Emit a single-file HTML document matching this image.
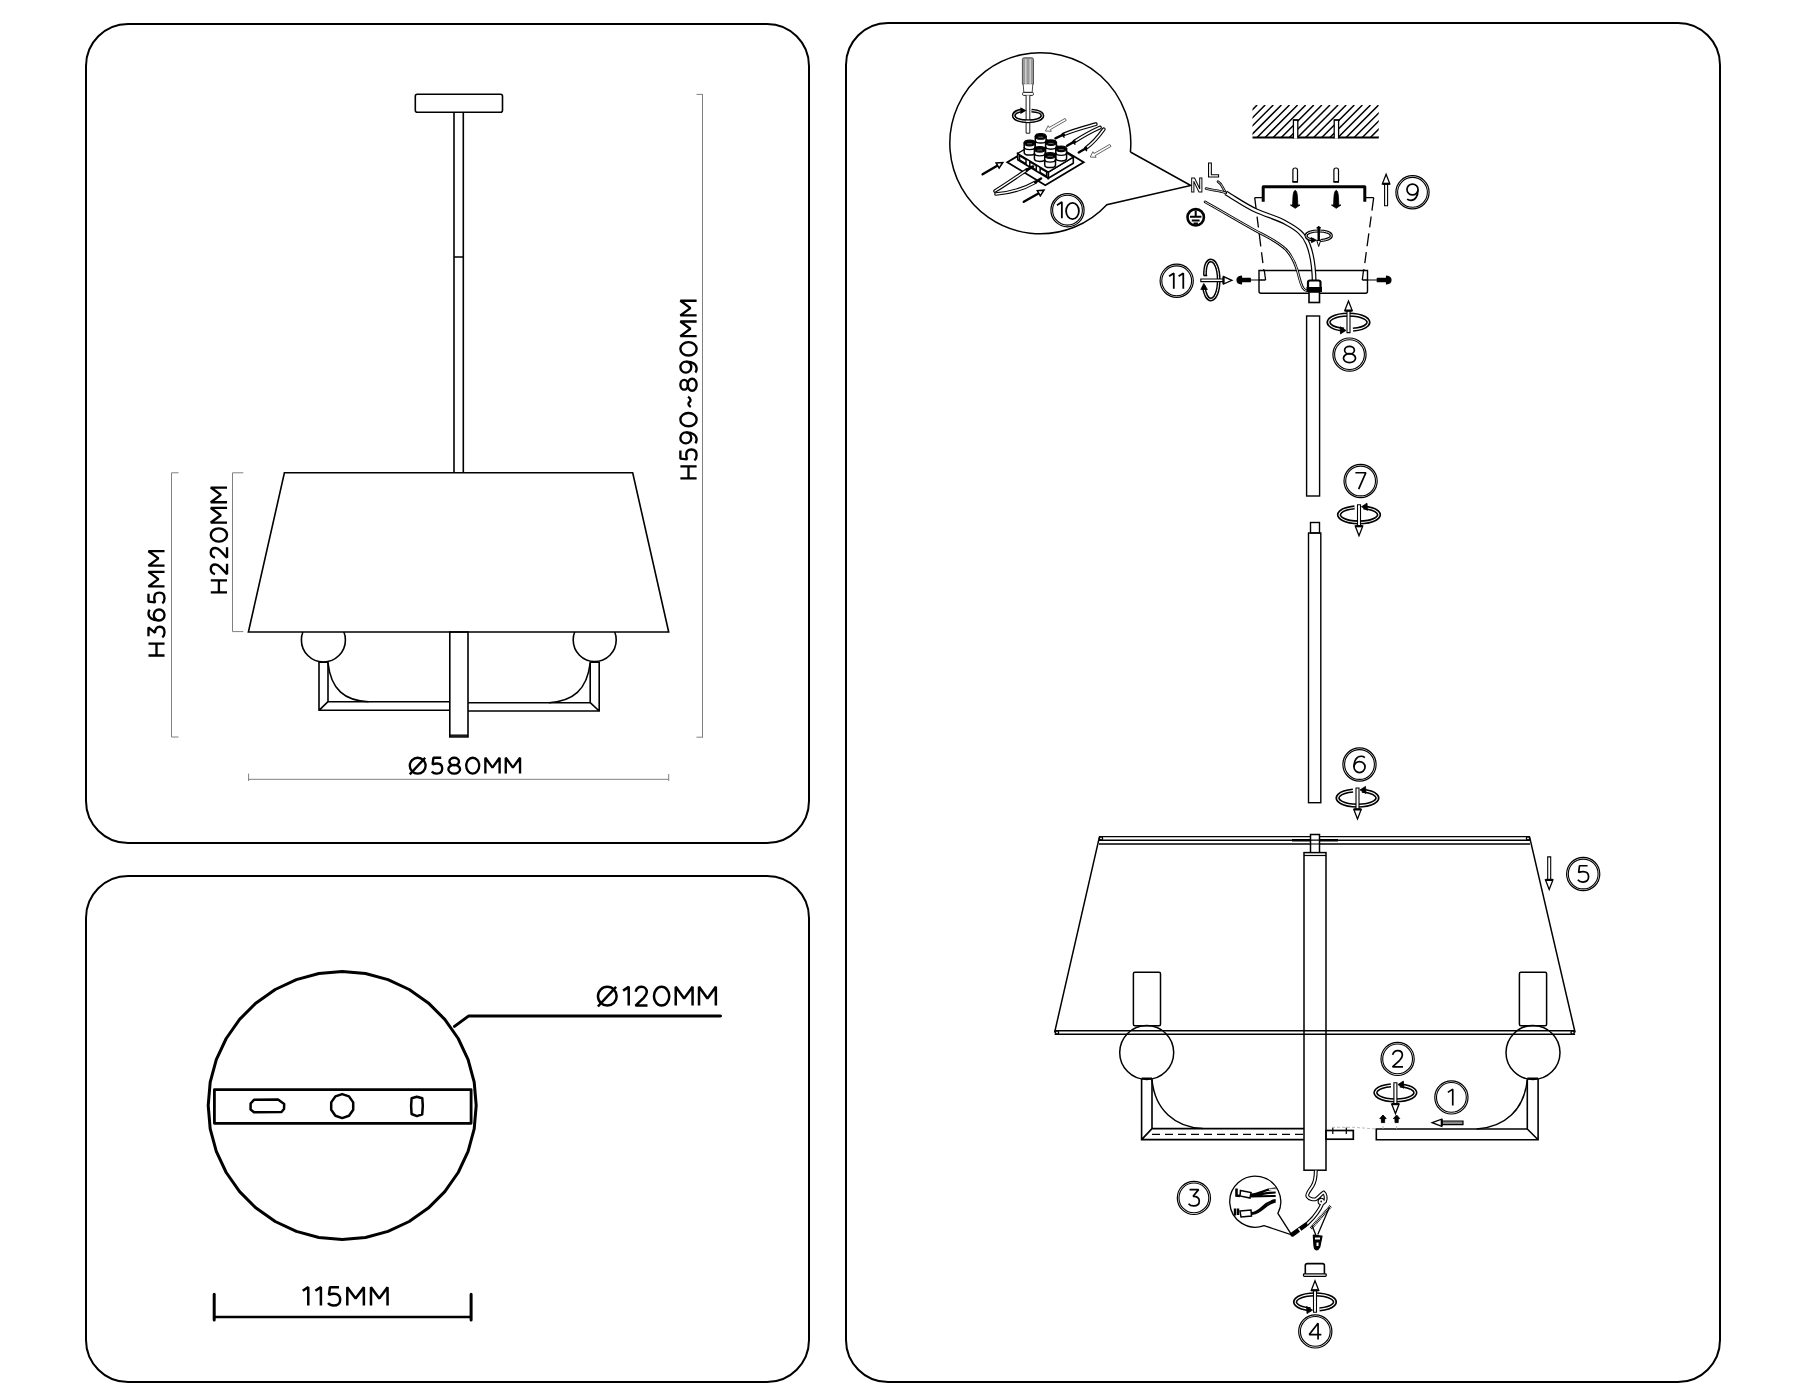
<!DOCTYPE html>
<html><head><meta charset="utf-8">
<style>
html,body{margin:0;padding:0;background:#fff;}
body{width:1800px;height:1400px;overflow:hidden;}
svg{display:block;will-change:transform;}
text{font-family:"Liberation Sans",sans-serif;}
</style></head><body>
<svg width="1800" height="1400" viewBox="0 0 1800 1400">
<rect x="0" y="0" width="1800" height="1400" fill="#fff"/>
<g fill="none" stroke="#000" stroke-width="2">
  <rect x="86" y="24" width="723" height="819" rx="42"/>
  <rect x="86" y="876" width="723" height="506" rx="42"/>
  <rect x="846" y="23" width="874" height="1359" rx="42"/>
</g>
<!-- PANEL1 -->
<g id="p1" fill="none" stroke="#000" stroke-width="1.6">
  <rect x="415.3" y="94.2" width="87.2" height="18.1" rx="2"/>
  <path d="M454 112.3V472.8M463.3 112.3V472.8M454 257H463.3"/>
  <circle cx="323.4" cy="640" r="22"/>
  <circle cx="594.7" cy="640" r="21.5"/>
  <polygon points="284.4,472.8 632.7,472.8 668.7,632 248.4,632" fill="#fff"/>
  <rect x="319" y="661.5" width="9" height="1.5" fill="#000" stroke="none"/>
  <rect x="590.2" y="661.5" width="9" height="1.5" fill="#000" stroke="none"/>
  <path d="M319 661.5V710.3H449.8M328 661.5V701.7H449.8M319 710.3L328 701.7"/>
  <path d="M599.2 661.5V711H468M590.2 661.5V702.7H468M599.2 711L590.2 702.7"/>
  <path d="M328 663C331 690 345 701 368.6 701.7"/>
  <path d="M590.2 663C587 690 573 701 549 702.7"/>
  <rect x="449.8" y="632" width="18.2" height="104.9"/>
  <path d="M449.8 735.2H468" stroke-width="1.4"/>
</g>
<g fill="none" stroke="#808080" stroke-width="1">
  <path d="M702.5 94.4V737.2M696.5 94.4H703M696.5 737.2H703"/>
  <path d="M171.5 472.8V737M171.5 472.8H178.5M171.5 737H178.5"/>
  <path d="M232.5 472.8V631.6M232.5 472.8H243.3M232.5 631.6H243.3"/>
  <path d="M248.6 779.3H668.7M248.6 773.6V781M668.7 774V781"/>
</g>


<!-- PANEL2 -->
<g id="p2" fill="none" stroke="#000" stroke-width="2.5" stroke-linejoin="round">
  <polygon points="476.2,1105.5 474.2,1128.8 468.1,1151.3 458.2,1172.5 444.8,1191.6 428.3,1208.1 409.2,1221.5 388.0,1231.4 365.5,1237.5 342.2,1239.5 318.9,1237.5 296.4,1231.4 275.2,1221.5 256.1,1208.1 239.6,1191.6 226.2,1172.5 216.3,1151.3 210.2,1128.8 208.2,1105.5 210.2,1082.2 216.3,1059.7 226.2,1038.5 239.6,1019.4 256.1,1002.9 275.2,989.5 296.4,979.6 318.9,973.5 342.2,971.5 365.5,973.5 388.0,979.6 409.2,989.5 428.3,1002.9 444.8,1019.4 458.2,1038.5 468.1,1059.7 474.2,1082.2" stroke-width="3"/>
  <rect x="214.4" y="1089.6" width="256.7" height="33.7" stroke-width="2.8"/>
  <polygon points="250.6,1103.5 254,1099.8 278,1099.6 284.2,1104 284,1109 281.5,1112 254,1112.2 250.6,1109.5"/>
  <polygon points="342.2,1094.1 349.0,1096.4 353.2,1102.4 353.2,1109.8 349.0,1115.8 342.2,1118.1 335.4,1115.8 331.2,1109.8 331.2,1102.4 335.4,1096.4"/>
  <polygon points="416.9,1096.7 422.3,1098.3 422.8,1105.8 422.2,1114.4 416.9,1116.1 411.6,1114 411.1,1106 411.6,1098.3"/>
  <path d="M454.5 1026.4L468.8 1015.9H720.5" stroke-width="3" stroke-linecap="round"/>
  <path d="M214.2 1317H471.1" stroke-width="2.5"/>
  <path d="M214.2 1294.2V1320M471.1 1294.2V1320" stroke-width="3" stroke-linecap="round"/>
</g>



<g id="t1" stroke-width="2.35" fill="none" stroke="#000" stroke-linecap="butt" stroke-linejoin="bevel"><g transform="rotate(-90)"><path d="M-478.32 680.38 V696.62 M-466.30 680.38 V696.62 M-478.32 688.50 H-466.30"/><path d="M-450.50 680.38 H-458.55 L-459.38 687.20 C-458.04 686.55 -456.54 686.23 -454.86 686.23 C-451.51 686.23 -449.50 688.34 -449.50 691.42 C-449.50 694.67 -451.84 696.62 -455.19 696.62 C-457.54 696.62 -459.22 695.65 -460.22 694.35"/><ellipse cx="-437.89" cy="685.82" rx="5.53" ry="5.44"/><path d="M-432.53 686.23 C-432.37 692.56 -435.29 696.62 -439.52 696.62 C-441.14 696.62 -442.28 696.14 -443.26 695.33"/><ellipse cx="-419.63" cy="688.50" rx="6.66" ry="8.12"/><path d="M-406.89 690.77 C-405.26 688.01 -403.31 687.85 -402.01 689.48 C-400.71 691.10 -398.76 691.10 -396.81 688.01"/><ellipse cx="-384.72" cy="684.19" rx="4.88" ry="3.82"/><ellipse cx="-384.72" cy="692.16" rx="6.01" ry="4.47"/><ellipse cx="-367.11" cy="685.82" rx="5.53" ry="5.44"/><path d="M-361.75 686.23 C-361.58 692.56 -364.51 696.62 -368.73 696.62 C-370.36 696.62 -371.50 696.14 -372.47 695.33"/><ellipse cx="-348.84" cy="688.50" rx="6.66" ry="8.12"/><path d="M-336.10 696.62 V680.38 L-328.79 690.45 L-321.48 680.38 V696.62"/><path d="M-315.40 696.62 V680.38 L-308.09 690.45 L-300.77 680.38 V696.62"/></g><g transform="rotate(-90)"><path d="M-592.33 210.78 V227.03 M-580.30 210.78 V227.03 M-592.33 218.90 H-580.30"/><path d="M-574.09 215.00 C-573.46 212.24 -571.41 210.78 -569.04 210.78 C-566.20 210.78 -564.47 212.72 -564.47 215.33 C-564.47 217.28 -565.41 218.58 -567.15 220.36 L-574.24 227.03 H-563.84"/><path d="M-557.62 215.00 C-556.99 212.24 -554.94 210.78 -552.57 210.78 C-549.74 210.78 -548.00 212.72 -548.00 215.33 C-548.00 217.28 -548.95 218.58 -550.68 220.36 L-557.78 227.03 H-547.37"/><ellipse cx="-534.97" cy="218.90" rx="6.66" ry="8.12"/><path d="M-522.56 227.03 V210.78 L-515.25 220.85 L-507.94 210.78 V227.03"/><path d="M-502.20 227.03 V210.78 L-494.89 220.85 L-487.57 210.78 V227.03"/></g><g transform="rotate(-90)"><path d="M-655.53 148.48 V164.53 M-643.65 148.48 V164.53 M-655.53 156.50 H-643.65"/><path d="M-636.36 148.48 H-627.42 L-632.88 155.06 C-629.08 154.73 -626.76 156.82 -626.76 159.71 C-626.76 162.76 -629.08 164.53 -632.22 164.53 C-634.54 164.53 -636.36 163.56 -637.35 162.28"/><ellipse cx="-615.00" cy="159.15" rx="5.46" ry="5.38"/><path d="M-620.30 158.75 C-620.46 152.49 -617.57 148.48 -613.40 148.48 C-611.79 148.48 -610.67 148.96 -609.71 149.76"/><path d="M-593.65 148.48 H-601.60 L-602.42 155.22 C-601.10 154.57 -599.61 154.25 -597.95 154.25 C-594.64 154.25 -592.66 156.34 -592.66 159.39 C-592.66 162.60 -594.98 164.53 -598.29 164.53 C-600.60 164.53 -602.26 163.56 -603.25 162.28"/><path d="M-586.36 164.53 V148.48 L-579.14 158.43 L-571.92 148.48 V164.53"/><path d="M-565.62 164.53 V148.48 L-558.40 158.43 L-551.18 148.48 V164.53"/></g><ellipse cx="417.70" cy="765.70" rx="7.92" ry="7.92"/><path d="M409.78 774.42 L425.15 757.77"/><path d="M441.24 757.77 H433.40 L432.58 764.43 C433.89 763.80 435.36 763.48 436.99 763.48 C440.26 763.48 442.22 765.54 442.22 768.55 C442.22 771.72 439.93 773.62 436.67 773.62 C434.38 773.62 432.74 772.67 431.76 771.41"/><ellipse cx="454.22" cy="761.50" rx="4.75" ry="3.72"/><ellipse cx="454.22" cy="769.27" rx="5.86" ry="4.36"/><ellipse cx="472.72" cy="765.70" rx="6.50" ry="7.92"/><path d="M485.36 773.62 V757.77 L492.49 767.60 L499.62 757.77 V773.62"/><path d="M505.76 773.62 V757.77 L512.89 767.60 L520.03 757.77 V773.62"/></g>
<g id="t2" stroke-width="2.5" fill="none" stroke="#000" stroke-linecap="butt" stroke-linejoin="bevel"><ellipse cx="607.30" cy="996.20" rx="9.35" ry="9.35"/><path d="M597.95 1006.49 L616.09 986.85"/><path d="M623.10 990.59 L628.71 986.85 V1005.55"/><path d="M635.71 991.71 C636.43 988.53 638.79 986.85 641.51 986.85 C644.78 986.85 646.78 989.09 646.78 992.09 C646.78 994.33 645.69 995.83 643.69 997.88 L635.52 1005.55 H647.50"/><ellipse cx="661.62" cy="996.20" rx="7.67" ry="9.35"/><path d="M675.74 1005.55 V986.85 L684.15 998.44 L692.57 986.85 V1005.55"/><path d="M699.02 1005.55 V986.85 L707.44 998.44 L715.85 986.85 V1005.55"/><path d="M302.75 1290.83 L308.27 1287.15 V1305.55"/><path d="M315.39 1290.83 L320.91 1287.15 V1305.55"/><path d="M339.04 1287.15 H329.94 L328.99 1294.88 C330.50 1294.14 332.21 1293.77 334.11 1293.77 C337.91 1293.77 340.18 1296.17 340.18 1299.66 C340.18 1303.34 337.53 1305.55 333.73 1305.55 C331.07 1305.55 329.18 1304.45 328.04 1302.97"/><path d="M347.31 1305.55 V1287.15 L355.59 1298.56 L363.87 1287.15 V1305.55"/><path d="M370.99 1305.55 V1287.15 L379.27 1298.56 L387.55 1287.15 V1305.55"/></g>
<!-- PANEL3 -->
<g id="p3" fill="none" stroke="#000" stroke-width="1.4">
<path d="M1130.4 152A90.5 90.5 0 1 0 1106.8 204.7L1190.8 185.5L1130.4 152" stroke-width="1.5"/>
<circle cx="1067.5" cy="210.2" r="16.6" stroke-width="1.2"/><circle cx="1067.5" cy="210.2" r="14.9" stroke-width="1.1"/><g stroke-width="1.8" stroke-linejoin="bevel"><path d="M1057.00 205.24 L1061.86 202.00 V218.20"/><ellipse cx="1072.50" cy="211.00" rx="6.4" ry="8.1"/></g>
<clipPath id="hc"><rect x="1252.5" y="105" width="126.20000000000005" height="32.5"/></clipPath>
<path d="M1216.5 137.5L1249.0 105M1224.6 137.5L1257.1 105M1232.7 137.5L1265.2 105M1240.8 137.5L1273.3 105M1248.9 137.5L1281.4 105M1257.0 137.5L1289.5 105M1265.1 137.5L1297.6 105M1273.2 137.5L1305.7 105M1281.3 137.5L1313.8 105M1289.4 137.5L1321.9 105M1297.5 137.5L1330.0 105M1305.6 137.5L1338.1 105M1313.7 137.5L1346.2 105M1321.8 137.5L1354.3 105M1329.9 137.5L1362.4 105M1338.0 137.5L1370.5 105M1346.1 137.5L1378.6 105M1354.2 137.5L1386.7 105M1362.3 137.5L1394.8 105M1370.4 137.5L1402.9 105M1378.5 137.5L1411.0 105M1386.6 137.5L1419.1 105M1394.7 137.5L1427.2 105M1402.8 137.5L1435.3 105M1410.9 137.5L1443.4 105" clip-path="url(#hc)" stroke-width="1.5"/>
<path d="M1252.5 137.5H1378.7" stroke-width="1.8"/>
<path d="M1293.4 138.5V120H1297.8V138.5" fill="#fff" stroke-width="1.3"/>
<path d="M1334.2 138.5V120H1338.6V138.5" fill="#fff" stroke-width="1.3"/>
<path d="M1293.4 120H1299M1334.2 120H1339.8" stroke-width="1.1"/>
<path d="M1263.2 201.7V186.7H1364.8V201.7" stroke-width="3" stroke-linejoin="round"/>
<path d="M1254.7 197.7H1263.2M1373.7 197.7H1364.8" stroke-width="1.3"/>
<path d="M1292.9 181.5V170Q1292.9 168 1295.2 168Q1297.5 168 1297.5 170V181.5Z" fill="#fff" stroke-width="1.2"/>
<path d="M1292.4 182H1298.0" stroke-width="1.6"/>
<path d="M1295.2 190.3Q1297.2 191 1297.5 198L1297.8 205H1300.0L1295.2 208.3L1290.4 205H1292.6000000000001L1292.9 198Q1293.2 191 1295.2 190.3Z" fill="#000" stroke-width="0.8"/>
<path d="M1333.9 181.5V170Q1333.9 168 1336.2 168Q1338.5 168 1338.5 170V181.5Z" fill="#fff" stroke-width="1.2"/>
<path d="M1333.4 182H1339.0" stroke-width="1.6"/>
<path d="M1336.2 190.3Q1338.2 191 1338.5 198L1338.8 205H1341.0L1336.2 208.3L1331.4 205H1333.6000000000001L1333.9 198Q1334.2 191 1336.2 190.3Z" fill="#000" stroke-width="0.8"/>
<path d="M1254.7 197.7L1265 280M1373.7 197.7L1362.5 280" stroke-width="1.3" stroke-dasharray="13 6 11 6"/>
<path d="M1384.6 205.7V183.8H1387.6V205.7Z" fill="#fff" stroke-width="1.1"/><path d="M1386.1 174.3L1382.3999999999999 183.8H1389.8Z" fill="#fff" stroke-width="1.3" stroke-linejoin="miter"/><path d="M1382.3999999999999 183.8H1389.8" stroke-width="2.2"/>
<circle cx="1412.5" cy="192.3" r="16.6" stroke-width="1.2"/><circle cx="1412.5" cy="192.3" r="14.9" stroke-width="1.1"/><g stroke-width="1.7" stroke-linejoin="bevel"><ellipse cx="1412.50" cy="189.51" rx="5.54" ry="5.46"/><path d="M1417.88 189.92 C1418.04 196.28 1415.11 200.35 1410.87 200.35 C1409.24 200.35 1408.10 199.86 1407.12 199.05"/></g>
<path d="M1259 270.5H1367.5V291.3Q1367.5 293.3 1365.5 293.3H1261Q1259 293.3 1259 291.3Z" fill="#fff" stroke-width="1.4"/>
<path d="M1265.6 280H1259M1362.3 280H1367.5" stroke-width="1.3"/>
<path d="M1264.3 270.5L1265.6 280M1363.5 270.5L1362.3 280" stroke-width="1.3"/>
<path d="M1250 280H1259M1367.5 280H1377.5" stroke-width="1.2"/>
<path d="M1250.3 278.3H1241.5V276Q1237 276.5 1237 280Q1237 283.5 1241.5 284V281.7H1250.3Z" fill="#000" stroke-width="1.2" stroke-linejoin="round"/>
<path d="M1377.3 278.3H1386.5V276Q1391 276.5 1391 280Q1391 283.5 1386.5 284V281.7H1377.3Z" fill="#000" stroke-width="1.2" stroke-linejoin="round"/>
<path d="M1225.7 192.9C1236 199 1246 206 1256.6 210.9C1268 216 1278 218 1287 223.5C1297 229 1304 234 1308 244C1312 254 1314 266 1314.2 283" stroke-width="4.8" stroke-linecap="butt"/><path d="M1225.7 192.9C1236 199 1246 206 1256.6 210.9C1268 216 1278 218 1287 223.5C1297 229 1304 234 1308 244C1312 254 1314 266 1314.2 283" stroke="#fff" stroke-width="2.4" stroke-linecap="butt"/>
<path d="M1225.7 192.9C1222 187 1222 184 1218 181.7" stroke-width="2.6" stroke-linecap="round"/><path d="M1225.7 192.9C1222 187 1222 184 1218 181.7" stroke="#fff" stroke-width="0.8" stroke-linecap="round"/>
<path d="M1225.7 192.9C1219 190 1212 190.5 1206 188.6" stroke-width="2.6" stroke-linecap="round"/><path d="M1225.7 192.9C1219 190 1212 190.5 1206 188.6" stroke="#fff" stroke-width="0.8" stroke-linecap="round"/>
<path d="M1205.1 201.9C1225 213 1245 225 1260 233C1272 239 1280 244 1286 249.5C1292 256 1295 263 1297.5 271C1299.5 279 1301 285 1303 288C1304.5 290 1305.5 290.5 1306.5 290.5" stroke-width="2.7" stroke-linecap="round"/><path d="M1205.1 201.9C1225 213 1245 225 1260 233C1272 239 1280 244 1286 249.5C1292 256 1295 263 1297.5 271C1299.5 279 1301 285 1303 288C1304.5 290 1305.5 290.5 1306.5 290.5" stroke="#fff" stroke-width="0.9" stroke-linecap="round"/>
<path d="M1308 290V282.5Q1308 280.5 1310 280.5H1318.5Q1320.5 280.5 1320.5 282.5V290" fill="#fff" stroke-width="2.2"/>
<rect x="1306.5" y="287" width="15.5" height="5" fill="#000" stroke="none"/>
<rect x="1309" y="292" width="10.5" height="10.5" fill="#fff" stroke-width="1.6"/>
<text x="1190.6" y="191.6" font-size="19.5" font-weight="bold" fill="#fff" stroke="#000" stroke-width="1.1" textLength="12.6" lengthAdjust="spacingAndGlyphs">N</text>
<text x="1207.2" y="176.7" font-size="19.5" font-weight="bold" fill="#fff" stroke="#000" stroke-width="1.1">L</text>
<circle cx="1195.7" cy="217.3" r="8.2" stroke-width="2.6"/>
<path d="M1195.7 210.5V216.2M1190 216.7H1201.4M1191.8 220.4H1199.6M1193.5 223.5H1197.9" stroke-width="2"/>
<path d="M1314 240.2C1309 239.5 1306.1 237.8 1306.1 235.7C1306.1 233 1311.6 231 1318.7 231C1325.8 231 1331.3 233 1331.3 235.7C1331.3 238.4 1325.8 240.4 1320.5 240.5" stroke-width="3.2"/>
<path d="M1314 240.2C1309 239.5 1306.1 237.8 1306.1 235.7C1306.1 233 1311.6 231 1318.7 231C1325.8 231 1331.3 233 1331.3 235.7C1331.3 238.4 1325.8 240.4 1320.5 240.5" stroke="#fff" stroke-width="0.9"/>
<path d="M1311 237.6L1316.5 240.2L1311.5 242.6Z" fill="#000" stroke-width="0.9"/>
<path d="M1318 226.7H1319.4V241.5H1318Z" fill="#000" stroke-width="1"/>
<path d="M1318.7 246.5L1316.8 240.5H1320.6Z" fill="#fff" stroke-width="1"/>
<path d="M1316.6 227.8H1320.8" stroke-width="1.6"/>
<circle cx="1176.7" cy="280.8" r="16.6" stroke-width="1.2"/><circle cx="1176.7" cy="280.8" r="14.9" stroke-width="1.1"/><g stroke-width="1.8" stroke-linejoin="bevel"><path d="M1169.10 276.32 L1173.78 273.20 V288.80"/><path d="M1178.60 276.32 L1183.28 273.20 V288.80"/></g>
<path d="M1205 275.5C1204.8 265 1207.5 260.5 1210.7 260.5C1215 260.5 1218.7 268 1218.7 280C1218.7 292 1215 299.5 1210.7 299.5C1207.5 299.5 1204.5 294 1203.8 286" stroke-width="3.8"/>
<path d="M1205 275.5C1204.8 265 1207.5 260.5 1210.7 260.5C1215 260.5 1218.7 268 1218.7 280C1218.7 292 1215 299.5 1210.7 299.5C1207.5 299.5 1204.5 294 1203.8 286" stroke="#fff" stroke-width="1.0"/>
<path d="M1203.6 275.5H1207.2" stroke-width="1.6"/>
<path d="M1203.8 283.5L1200.8 289.5H1207.4Z" fill="#000" stroke-width="0.8"/>
<path d="M1200.8 279.0H1223.5V281.6H1200.8Z" fill="#fff" stroke-width="1.1"/><path d="M1232 280.3L1223.5 276.6V284.0Z" fill="#fff" stroke-width="1.3"/><path d="M1223.5 276.6V284.0" stroke-width="2.2"/>
<rect x="1306.6" y="316" width="13" height="180" stroke-width="1.4"/>
<g transform="translate(1348.5,322.3)"><path d="M-4.5 7.37A19.9 7.6 0 1 1 4.5 7.37" stroke-width="4.3"/><path d="M-4.5 7.37A19.9 7.6 0 1 1 4.5 7.37" stroke="#fff" stroke-width="1.1"/><path d="M-2.5 8.1L-8.5 4.3999999999999995L-8 11.6Z" fill="#000" stroke-width="0.8"/><path d="M-1.5 10.3V-11.7H1.5V10.3Z" fill="#fff" stroke-width="1.1"/><path d="M0 -21.2L-3.7 -11.7H3.7Z" fill="#fff" stroke-width="1.3" stroke-linejoin="miter"/><path d="M-3.7 -11.7H3.7" stroke-width="2.2"/></g>
<circle cx="1349.5" cy="354.6" r="16.6" stroke-width="1.2"/><circle cx="1349.5" cy="354.6" r="14.9" stroke-width="1.1"/><g stroke-width="1.7" stroke-linejoin="bevel"><ellipse cx="1349.50" cy="350.18" rx="4.89" ry="3.83"/><ellipse cx="1349.50" cy="358.17" rx="6.03" ry="4.48"/></g>
<circle cx="1360.6" cy="481" r="16.6" stroke-width="1.2"/><circle cx="1360.6" cy="481" r="14.9" stroke-width="1.1"/><g stroke-width="1.7" stroke-linejoin="bevel"><path d="M1355.38 472.75 H1365.82 L1358.64 489.05"/></g>
<g transform="translate(1359,514.8)"><path d="M4.5 -7.37A19.9 7.6 0 1 1 -4.5 -7.37" stroke-width="4.3"/><path d="M4.5 -7.37A19.9 7.6 0 1 1 -4.5 -7.37" stroke="#fff" stroke-width="1.1"/><path d="M2.5 -8.1L8.5 -4.3999999999999995L8 -11.6Z" fill="#000" stroke-width="0.8"/><path d="M-1.5 -10V11.399999999999999H1.5V-10Z" fill="#fff" stroke-width="1.1"/><path d="M0 20.9L-3.7 11.399999999999999H3.7Z" fill="#fff" stroke-width="1.3" stroke-linejoin="miter"/><path d="M-3.7 11.399999999999999H3.7" stroke-width="2.2"/></g>
<rect x="1310.5" y="522.5" width="9" height="10.5" stroke-width="1.4"/>
<rect x="1308.5" y="533" width="12.3" height="269.7" stroke-width="1.4"/>
<circle cx="1359.5" cy="764.5" r="16.6" stroke-width="1.2"/><circle cx="1359.5" cy="764.5" r="14.9" stroke-width="1.1"/><g stroke-width="1.7" stroke-linejoin="bevel"><ellipse cx="1359.50" cy="767.09" rx="5.54" ry="5.46"/><path d="M1354.12 766.68 C1353.96 760.33 1356.89 756.25 1361.13 756.25 C1362.76 756.25 1363.90 756.74 1364.88 757.55"/></g>
<g transform="translate(1357.5,798)"><path d="M4.5 -7.37A19.9 7.6 0 1 1 -4.5 -7.37" stroke-width="4.3"/><path d="M4.5 -7.37A19.9 7.6 0 1 1 -4.5 -7.37" stroke="#fff" stroke-width="1.1"/><path d="M2.5 -8.1L8.5 -4.3999999999999995L8 -11.6Z" fill="#000" stroke-width="0.8"/><path d="M-1.5 -10V11.399999999999999H1.5V-10Z" fill="#fff" stroke-width="1.1"/><path d="M0 20.9L-3.7 11.399999999999999H3.7Z" fill="#fff" stroke-width="1.3" stroke-linejoin="miter"/><path d="M-3.7 11.399999999999999H3.7" stroke-width="2.2"/></g>
<path d="M1099 836.6H1530M1099 840.2H1530M1099 844H1530" stroke-width="1.4"/>
<path d="M1099.5 836.6L1054.6 1032.5M1529.5 836.6L1575.1 1032.5" stroke-width="1.5"/>
<path d="M1054.6 1030.7H1575.1M1054.6 1034.3H1575.1" stroke-width="1.4"/>
<path d="M1292 840.2H1338" stroke-width="2.6"/>
<circle cx="1101" cy="838.4" r="1.6" stroke-width="1.4"/><circle cx="1528" cy="838.4" r="1.6" stroke-width="1.4"/>
<circle cx="1057" cy="1032.5" r="1.6" stroke-width="1.4"/><circle cx="1572.6" cy="1032.5" r="1.6" stroke-width="1.4"/>
<rect x="1310.5" y="834.5" width="9" height="18.5" fill="#fff" stroke-width="1.5"/>
<path d="M1310.5 840.2H1319.5M1310.5 844H1319.5" stroke-width="1.2"/>
<rect x="1304" y="852.6" width="22" height="317.6" fill="#fff" stroke-width="1.5"/>
<path d="M1304 855.5H1326" stroke-width="1.2"/>
<path d="M1304 1030.7H1326M1304 1034.3H1326" stroke-width="1.4"/>
<rect x="1133.4" y="972.2" width="27.09999999999991" height="53.5" rx="1.5" stroke-width="1.5"/>
<circle cx="1146.7" cy="1052.5" r="27" stroke-width="1.5"/>
<rect x="1141.6" y="1077.5" width="10.400000000000091" height="2" fill="#000" stroke="none"/>
<rect x="1519.4" y="972.2" width="27.199999999999818" height="53.5" rx="1.5" stroke-width="1.5"/>
<circle cx="1533" cy="1052.5" r="27" stroke-width="1.5"/>
<rect x="1527.3" y="1077.5" width="10.799999999999955" height="2" fill="#000" stroke="none"/>
<path d="M1141.6 1079V1139.6H1304M1152 1079V1128.6H1304M1141.6 1139.6L1152 1128.6" stroke-width="1.6"/>
<path d="M1152 1134.4H1304" stroke-width="1.4" stroke-dasharray="8 5"/>
<path d="M1152 1080C1155 1110 1175 1127 1202.6 1128.6" stroke-width="1.5"/>
<path d="M1538.1 1079V1139.8H1376.3V1129H1527.3V1079M1538.1 1139.8L1527.3 1129" stroke-width="1.6"/>
<path d="M1527.3 1080C1524 1110 1505 1127 1476.7 1129" stroke-width="1.5"/>
<rect x="1326" y="1130.5" width="27.3" height="8.7" stroke-width="1.7"/>
<path d="M1332.8 1127.5V1134M1346.3 1127.5V1134" stroke-width="1.2"/>
<path d="M1332 1127.3H1354L1376 1129M1383 1126V1129M1396.6 1126V1129" stroke="#aaa" stroke-width="0.8" stroke-dasharray="3 2"/>
<circle cx="1397.6" cy="1058.9" r="16.6" stroke-width="1.2"/><circle cx="1397.6" cy="1058.9" r="14.9" stroke-width="1.1"/><g stroke-width="1.7" stroke-linejoin="bevel"><path d="M1392.70 1054.89 C1393.33 1052.12 1395.39 1050.65 1397.76 1050.65 C1400.61 1050.65 1402.35 1052.61 1402.35 1055.21 C1402.35 1057.17 1401.40 1058.47 1399.66 1060.27 L1392.54 1066.95 H1402.98"/></g>
<g transform="translate(1395.4,1092.7)"><path d="M4.5 -7.37A19.9 7.6 0 1 1 -4.5 -7.37" stroke-width="4.3"/><path d="M4.5 -7.37A19.9 7.6 0 1 1 -4.5 -7.37" stroke="#fff" stroke-width="1.1"/><path d="M2.5 -8.1L8.5 -4.3999999999999995L8 -11.6Z" fill="#000" stroke-width="0.8"/><path d="M-1.5 -10V11.399999999999999H1.5V-10Z" fill="#fff" stroke-width="1.1"/><path d="M0 20.9L-3.7 11.399999999999999H3.7Z" fill="#fff" stroke-width="1.3" stroke-linejoin="miter"/><path d="M-3.7 11.399999999999999H3.7" stroke-width="2.2"/></g>
<circle cx="1451.4" cy="1097.4" r="16.6" stroke-width="1.2"/><circle cx="1451.4" cy="1097.4" r="14.9" stroke-width="1.1"/><g stroke-width="1.7" stroke-linejoin="bevel"><path d="M1447.86 1092.41 L1452.75 1089.15 V1105.45"/></g>
<path d="M1463 1121H1441.7V1124.6H1463Z" fill="#888" stroke-width="1.2"/>
<path d="M1432.2 1122.7L1441.7 1119.1V1126.3Z" fill="#fff" stroke-width="1.3"/>
<path d="M1441.7 1119.1V1126.3" stroke-width="2"/>
<path d="M1383 1115L1379.8 1118.6H1386.2Z M1381.4 1118.6H1384.6V1122.6H1381.4Z" fill="#000" stroke-width="0.9"/>
<path d="M1396.6 1115L1393.3999999999999 1118.6H1399.8Z M1395.0 1118.6H1398.1999999999998V1122.6H1395.0Z" fill="#000" stroke-width="0.9"/>
<circle cx="1193.9" cy="1197.9" r="16.6" stroke-width="1.2"/><circle cx="1193.9" cy="1197.9" r="14.9" stroke-width="1.1"/><g stroke-width="1.7" stroke-linejoin="bevel"><path d="M1189.53 1189.65 H1198.61 L1193.06 1196.33 C1196.93 1196.01 1199.28 1198.13 1199.28 1201.06 C1199.28 1204.16 1196.93 1205.95 1193.73 1205.95 C1191.38 1205.95 1189.53 1204.97 1188.52 1203.67"/></g>
<path d="M1277.9 1213.4A25.5 25.5 0 1 0 1264.1 1225.6L1291.6 1234.8Z" fill="#fff" stroke-width="1.3"/>
<path d="M1236.5 1188.5V1195.5L1240 1196" stroke-width="2.6"/>
<path d="M1240.5 1190.5L1251 1192.5L1250 1198L1240 1196Z" fill="#fff" stroke-width="1.5"/>
<path d="M1251 1194.5C1260 1194 1265 1189 1275.7 1188.5M1251 1195.5C1260 1195 1265 1192.5 1275.7 1192.5M1251 1196.5C1262 1196 1266 1196 1275.7 1196" stroke-width="2.2"/>
<path d="M1235 1208.5V1215.5M1238 1208.5V1215M1240.5 1210.5" stroke-width="2.4"/>
<path d="M1240 1211L1251 1210L1251.5 1216L1241 1217Z" fill="#fff" stroke-width="1.5"/>
<path d="M1251.5 1213C1262 1212 1262 1202 1275.7 1200M1251.5 1214C1263 1213 1264 1204 1275.7 1201.5" stroke-width="1.8"/>
<path d="M1269 1189.3H1275.7" stroke="#fff" stroke-width="1.2"/>
<path d="M1315.8 1170.5C1315.8 1177 1315 1182 1312.5 1186C1310 1190 1306 1194 1307.5 1196.5C1309 1199 1314 1200 1316 1199C1319 1197 1322 1193 1323.6 1192.5C1325.5 1194 1326.5 1198 1325 1201.5C1323 1204 1319.5 1204 1319.5 1201.5C1319.5 1199.5 1322 1199 1323 1201C1322 1206 1318 1212 1313 1218L1306.5 1224.5" stroke-width="3.9" stroke-linecap="butt"/><path d="M1315.8 1170.5C1315.8 1177 1315 1182 1312.5 1186C1310 1190 1306 1194 1307.5 1196.5C1309 1199 1314 1200 1316 1199C1319 1197 1322 1193 1323.6 1192.5C1325.5 1194 1326.5 1198 1325 1201.5C1323 1204 1319.5 1204 1319.5 1201.5C1319.5 1199.5 1322 1199 1323 1201C1322 1206 1318 1212 1313 1218L1306.5 1224.5" stroke="#fff" stroke-width="1.7" stroke-linecap="butt"/>
<path d="M1330.6 1206.1L1310.7 1228.6" stroke-width="3.2" stroke-dasharray="0.9 0.7"/>
<path d="M1312 1225.4L1315.8 1235M1329.3 1207.4L1317.8 1234.4" stroke-width="1.3"/>
<path d="M1305.5 1225L1292.5 1234.3" stroke-width="4.6" stroke-linecap="round"/>
<path d="M1298.6 1228.2L1301.4 1232.4" stroke="#fff" stroke-width="1.6"/>
<path d="M1313.3 1235.2L1322 1236.2L1319.8 1247Q1318 1250.5 1316 1249.8Q1314 1249 1314 1246Z" fill="#000" stroke-width="1.2" stroke-linejoin="round"/>
<rect x="1315" y="1237.5" width="5" height="2" fill="#fff" stroke="none"/>
<rect x="1316.5" y="1242.5" width="2" height="3.5" fill="#fff" stroke="none"/>
<path d="M1305.3 1274V1265.6Q1305.3 1263.6 1307.3 1263.6H1322.4Q1324.4 1263.6 1324.4 1265.6V1274" stroke-width="1.6"/>
<rect x="1303.5" y="1273.8" width="22.7" height="2.6" rx="0.8" fill="#fff" stroke-width="1.3"/>
<g transform="translate(1315,1302)"><path d="M-4.5 7.37A19.9 7.6 0 1 1 4.5 7.37" stroke-width="4.3"/><path d="M-4.5 7.37A19.9 7.6 0 1 1 4.5 7.37" stroke="#fff" stroke-width="1.1"/><path d="M-2.5 8.1L-8.5 4.3999999999999995L-8 11.6Z" fill="#000" stroke-width="0.8"/><path d="M-1.5 10.3V-11.7H1.5V10.3Z" fill="#fff" stroke-width="1.1"/><path d="M0 -21.2L-3.7 -11.7H3.7Z" fill="#fff" stroke-width="1.3" stroke-linejoin="miter"/><path d="M-3.7 -11.7H3.7" stroke-width="2.2"/></g>
<circle cx="1315.3" cy="1331.4" r="16.6" stroke-width="1.2"/><circle cx="1315.3" cy="1331.4" r="14.9" stroke-width="1.1"/><g stroke-width="1.7" stroke-linejoin="bevel"><path d="M1318.07 1339.45 V1323.15 L1309.27 1334.56 H1321.33"/></g>
<path d="M1547.7 856.9V879.9H1550.7V856.9Z" fill="#fff" stroke-width="1.1"/><path d="M1549.2 889.4L1545.5 879.9H1552.9Z" fill="#fff" stroke-width="1.3" stroke-linejoin="miter"/><path d="M1545.5 879.9H1552.9" stroke-width="2.2"/>
<circle cx="1583.2" cy="874" r="16.6" stroke-width="1.2"/><circle cx="1583.2" cy="874" r="14.9" stroke-width="1.1"/><g stroke-width="1.7" stroke-linejoin="bevel"><path d="M1587.57 865.75 H1579.50 L1578.66 872.60 C1580.01 871.94 1581.52 871.62 1583.20 871.62 C1586.56 871.62 1588.58 873.74 1588.58 876.83 C1588.58 880.09 1586.23 882.05 1582.86 882.05 C1580.51 882.05 1578.83 881.07 1577.82 879.77"/></g>
</g>
<g id="p10" fill="none" stroke="#000">
<path d="M1022.4 84.2V59.5Q1022.4 57.8 1024.2 57.8H1031.7Q1033.5 57.8 1033.5 59.5V84.2Z" fill="#9a9a9a" stroke="#444" stroke-width="0.9"/>
<path d="M1025.8 59V84M1030.2 59V84" stroke="#d8d8d8" stroke-width="1.3"/>
<path d="M1023.2 84.2L1023.8 92.4H1032.2L1032.8 84.2" fill="#fff" stroke="#333" stroke-width="0.9"/>
<rect x="1022.6" y="92.4" width="10.8" height="3" rx="1" fill="#fff" stroke="#222" stroke-width="1"/>
<path d="M1026.1 95.4V133.2H1029.8V95.4" fill="#fff" stroke-width="0.9"/>
<path d="M1031.5 110.6C1038.5 111 1042.4 113 1042.4 115.8C1042.4 119 1036 121.3 1028.1 121.3C1020 121.3 1013.8 119 1013.8 115.8C1013.8 113 1017.5 111 1022.5 110.5" stroke-width="3.9"/>
<path d="M1031.5 110.6C1038.5 111 1042.4 113 1042.4 115.8C1042.4 119 1036 121.3 1028.1 121.3C1020 121.3 1013.8 119 1013.8 115.8C1013.8 113 1017.5 111 1022.5 110.5" stroke="#fff" stroke-width="0.9"/>
<path d="M1026.1 121.3H1029.8" stroke="#fff" stroke-width="1.2"/>
<path d="M1021 108.3L1025.3 110.6L1021 113Z" fill="#000" stroke-width="1.2"/>
<polygon points="1007.3,162.3 1045.3,185.3 1083.7,162.3 1045.7,139.3" fill="#fff" stroke-width="1.8"/>
<polygon points="1048.3,178.3 1073.3,163.3 1073.3,157.1 1048.3,172.1" fill="#fff" stroke-width="1.6"/>
<polygon points="1017.7,159.7 1048.3,178.3 1048.3,172.1 1017.7,153.5" fill="#fff" stroke-width="1.6"/>
<polygon points="1017.7,153.5 1048.3,172.1 1073.3,157.1 1042.8,138.5" fill="#fff" stroke-width="1.4"/>
<polygon points="1019.5,159.9 1026.0,163.9 1026.0,159.5 1019.5,155.5" fill="#fff" stroke-width="1.5"/>
<polygon points="1029.8,166.2 1036.3,170.1 1036.3,165.7 1029.8,161.8" fill="#fff" stroke-width="1.5"/>
<polygon points="1040.1,172.4 1046.6,176.3 1046.6,171.9 1040.1,168.0" fill="#fff" stroke-width="1.5"/>
<path d="M1035.3 145.9V136.4H1046.1V145.9A5.4 2.6 0 0 1 1035.3 145.9Z" fill="#fff" stroke-width="1.5"/>
<ellipse cx="1040.7" cy="136.4" rx="5.4" ry="2.8" fill="#000" stroke-width="1.2"/>
<path d="M1038.2 137.2H1043.2" stroke="#888" stroke-width="0.8"/>
<path d="M1035.3 140.4A5.4 2.6 0 0 0 1046.1 140.4" stroke-width="1.4"/>
<path d="M1045.6 152.1V142.6H1056.4V152.1A5.4 2.6 0 0 1 1045.6 152.1Z" fill="#fff" stroke-width="1.5"/>
<ellipse cx="1051.0" cy="142.6" rx="5.4" ry="2.8" fill="#000" stroke-width="1.2"/>
<path d="M1048.5 143.4H1053.5" stroke="#888" stroke-width="0.8"/>
<path d="M1045.6 146.6A5.4 2.6 0 0 0 1056.4 146.6" stroke-width="1.4"/>
<path d="M1024.2 152.5V143.0H1035.0V152.5A5.4 2.6 0 0 1 1024.2 152.5Z" fill="#fff" stroke-width="1.5"/>
<ellipse cx="1029.6" cy="143.0" rx="5.4" ry="2.8" fill="#000" stroke-width="1.2"/>
<path d="M1027.1 143.8H1032.1" stroke="#888" stroke-width="0.8"/>
<path d="M1024.2 147.0A5.4 2.6 0 0 0 1035.0 147.0" stroke-width="1.4"/>
<path d="M1055.8 158.3V148.8H1066.6V158.3A5.4 2.6 0 0 1 1055.8 158.3Z" fill="#fff" stroke-width="1.5"/>
<ellipse cx="1061.2" cy="148.8" rx="5.4" ry="2.8" fill="#000" stroke-width="1.2"/>
<path d="M1058.7 149.6H1063.7" stroke="#888" stroke-width="0.8"/>
<path d="M1055.8 152.8A5.4 2.6 0 0 0 1066.6 152.8" stroke-width="1.4"/>
<path d="M1034.4 158.8V149.3H1045.2V158.8A5.4 2.6 0 0 1 1034.4 158.8Z" fill="#fff" stroke-width="1.5"/>
<ellipse cx="1039.8" cy="149.3" rx="5.4" ry="2.8" fill="#000" stroke-width="1.2"/>
<path d="M1037.3 150.1H1042.3" stroke="#888" stroke-width="0.8"/>
<path d="M1034.4 153.3A5.4 2.6 0 0 0 1045.2 153.3" stroke-width="1.4"/>
<path d="M1044.7 165.0V155.5H1055.5V165.0A5.4 2.6 0 0 1 1044.7 165.0Z" fill="#fff" stroke-width="1.5"/>
<ellipse cx="1050.1" cy="155.5" rx="5.4" ry="2.8" fill="#000" stroke-width="1.2"/>
<path d="M1047.6 156.3H1052.6" stroke="#888" stroke-width="0.8"/>
<path d="M1044.7 159.5A5.4 2.6 0 0 0 1055.5 159.5" stroke-width="1.4"/>
<path d="M1063.3 134.6C1074 130 1086 127 1095.8 124.2" stroke-width="3.8" stroke-linecap="round"/><path d="M1063.3 134.6C1074 130 1086 127 1095.8 124.2" stroke="#fff" stroke-width="1.5" stroke-linecap="round"/>
<path d="M1074.2 141.7C1083 136 1092 131 1100 127.5" stroke-width="3.8" stroke-linecap="round"/><path d="M1074.2 141.7C1083 136 1092 131 1100 127.5" stroke="#fff" stroke-width="1.5" stroke-linecap="round"/>
<path d="M1085.8 148.3C1093 143 1099 136 1103.8 129.2" stroke-width="3.8" stroke-linecap="round"/><path d="M1085.8 148.3C1093 143 1099 136 1103.8 129.2" stroke="#fff" stroke-width="1.5" stroke-linecap="round"/>
<path d="M1055.4 138.3L1063.8 134.4" stroke-width="2.4" stroke-linecap="round"/>
<path d="M1062.5 134.8L1064.3999999999999 137.6" stroke-width="1.4"/>
<path d="M1067.1 145.8L1074.7 141.4" stroke-width="2.4" stroke-linecap="round"/>
<path d="M1073.4 141.8L1075.3 144.6" stroke-width="1.4"/>
<path d="M1078.75 152.5L1086.3 148.0" stroke-width="2.4" stroke-linecap="round"/>
<path d="M1085.0 148.4L1086.8999999999999 151.2" stroke-width="1.4"/>
<path d="M995 191C1005 185 1015 178 1026.7 170" stroke-width="3.6" stroke-linecap="round"/><path d="M995 191C1005 185 1015 178 1026.7 170" stroke="#fff" stroke-width="1.4" stroke-linecap="round"/>
<path d="M996 194C1008 193 1022 190 1035.3 182.3" stroke-width="3.6" stroke-linecap="round"/><path d="M996 194C1008 193 1022 190 1035.3 182.3" stroke="#fff" stroke-width="1.4" stroke-linecap="round"/>
<path d="M1026.7 170L1033 166.5M1035.3 182.3L1041 178.5" stroke-width="2.6" stroke-linecap="round"/>
<polygon points="1065.1,118.4 1049.1,127.5 1048.2,125.7 1045.4,131.0 1051.3,131.3 1050.3,129.6 1066.3,120.4" fill="#fff" stroke="#666" stroke-width="1"/>
<polygon points="1109.8,144.4 1093.9,153.5 1092.9,151.7 1090.2,157.0 1096.1,157.3 1095.1,155.6 1111.0,146.4" fill="#fff" stroke="#666" stroke-width="1"/>
<path d="M982.6 174.3L997.6 165.5" stroke-width="2.4" stroke-linecap="round"/>
<polygon points="999.1,168.1 1002.8,162.5 996.1,162.9" fill="#fff" stroke-width="1.5"/>
<path d="M1023.8 201.8L1038.8 193.2" stroke-width="2.4" stroke-linecap="round"/>
<polygon points="1040.3,195.8 1044.0,190.2 1037.3,190.6" fill="#fff" stroke-width="1.5"/>
</g>
</svg>
</body></html>
